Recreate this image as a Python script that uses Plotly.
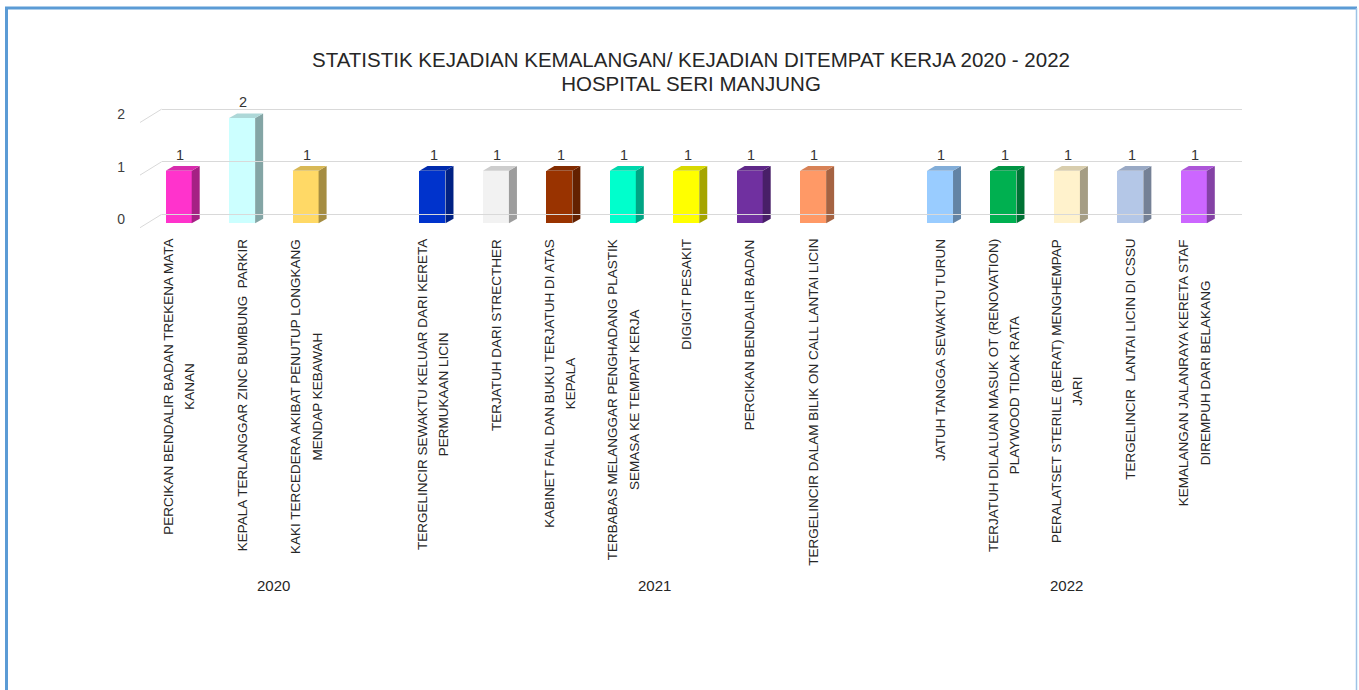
import plotly.graph_objects as go

# ---------------- data ----------------
years = ["2020", "2021", "2022"]

labels_2020 = [
    "PERCIKAN BENDALIR BADAN TREKENA MATA<br>KANAN",
    "KEPALA TERLANGGAR ZINC BUMBUNG  PARKIR",
    "KAKI TERCEDERA AKIBAT PENUTUP LONGKANG<br>MENDAP KEBAWAH",
]
values_2020 = [1, 2, 1]

labels_2021 = [
    "TERGELINCIR SEWAKTU KELUAR DARI KERETA<br>PERMUKAAN LICIN",
    "TERJATUH DARI STRECTHER",
    "KABINET FAIL DAN BUKU TERJATUH DI ATAS<br>KEPALA",
    "TERBABAS MELANGGAR PENGHADANG PLASTIK<br>SEMASA KE TEMPAT KERJA",
    "DIGIGIT PESAKIT",
    "PERCIKAN BENDALIR BADAN",
    "TERGELINCIR DALAM BILIK ON CALL LANTAI LICIN",
]
values_2021 = [1, 1, 1, 1, 1, 1, 1]

labels_2022 = [
    "JATUH TANGGA SEWAKTU TURUN",
    "TERJATUH DILALUAN MASUK OT (RENOVATION)<br>PLAYWOOD TIDAK RATA",
    "PERALATSET STERILE (BERAT) MENGHEMPAP<br>JARI",
    "TERGELINCIR  LANTAI LICIN DI CSSU",
    "KEMALANGAN JALANRAYA KERETA STAF<br>DIREMPUH DARI BELAKANG",
]
values_2022 = [1, 1, 1, 1, 1]

bar_colors = [
    "#FF33CC", "#CCFFFF", "#FFD966",
    "#0033CC", "#F2F2F2", "#993300", "#00FFCC", "#FFFF00", "#7030A0", "#FF9966",
    "#99CCFF", "#00B050", "#FFF2CC", "#B4C7E7", "#CC66FF",
]

y_ticks = [0, 1, 2]
title_text = ("STATISTIK KEJADIAN KEMALANGAN/ KEJADIAN DITEMPAT KERJA 2020 - 2022"
              "<br>HOSPITAL SERI MANJUNG")

# ---------------- layout helpers ----------------
W, H = 1359, 690
PX_X = 63.44   # px per category slot
PX_Y = 52.6    # px per value unit
FONT = "Liberation Sans, Arial, sans-serif"
TXT = "#404040"

groups = [(years[0], labels_2020, values_2020),
          (years[1], labels_2021, values_2021),
          (years[2], labels_2022, values_2022)]

positions, labels, values, year_centers = [], [], [], []
pos = 0
for gi, (yr, labs, vals) in enumerate(groups):
    start = pos
    for lab, v in zip(labs, vals):
        positions.append(pos)
        labels.append(lab)
        values.append(v)
        pos += 1
    if gi < len(groups) - 1:
        pos += 1  # blank slot after group
    year_centers.append((start + pos - 1) / 2)

last_slot = positions[-1]
x_range = [-38.7 / PX_X, last_slot + 26.2 / PX_X]
y_range = [-0.1, 2.44]


def shade(hexc, f):
    hexc = hexc.lstrip("#")
    r, g, b = (int(hexc[i:i + 2], 16) for i in (0, 2, 4))
    return "rgb(%d,%d,%d)" % (r * f, g * f, b * f)


def pfy(px):  # paper fraction from pixel y (top origin)
    return (H - px) / H


fig = go.Figure()

# back wall grid (separate axes shifted up/right for depth)
fig.add_trace(go.Scatter(x=[0], y=[0], mode="lines", xaxis="x2", yaxis="y2",
                         hoverinfo="skip", showlegend=False))

BAR_W = 0.41
DDX = 8 / PX_X
DDY = 4.6 / PX_Y

# front faces
fig.add_trace(go.Bar(x=positions, y=values, width=BAR_W,
                     marker=dict(color=bar_colors, line=dict(width=0)),
                     showlegend=False, hoverinfo="skip"))

# side and top faces
for p, v, c in zip(positions, values, bar_colors):
    xr = p + BAR_W / 2
    xl = p - BAR_W / 2
    fig.add_trace(go.Scatter(
        x=[xr, xr + DDX, xr + DDX, xr, xr],
        y=[0, DDY, v + DDY, v, 0],
        fill="toself", fillcolor=shade(c, 0.65), mode="lines",
        line=dict(width=0, color=shade(c, 0.65)),
        showlegend=False, hoverinfo="skip"))
    fig.add_trace(go.Scatter(
        x=[xl, xl + DDX, xr + DDX, xr, xl],
        y=[v, v + DDY, v + DDY, v, v],
        fill="toself", fillcolor=shade(c, 0.85), mode="lines",
        line=dict(width=0, color=shade(c, 0.85)),
        showlegend=False, hoverinfo="skip"))

# small depth diagonals at each tick on the left
dx_floor = 21.7 / PX_X
diag_x, diag_y = [], []
for t in y_ticks:
    diag_x += [x_range[0], x_range[0] + dx_floor, None]
    diag_y += [t - 4.4 / PX_Y, t + 9.0 / PX_Y, None]
fig.add_trace(go.Scatter(x=diag_x, y=diag_y, mode="lines",
                         line=dict(color="#D9D9D9", width=1),
                         showlegend=False, hoverinfo="skip"))

annotations = []
# value labels
for p, v in zip(positions, values):
    annotations.append(dict(x=p + 0.02, y=v, xref="x", yref="y", text=str(v),
                            showarrow=False, yshift=16, yanchor="middle",
                            font=dict(family=FONT, size=14.5, color="#333333")))
# category labels (rotated)
for p, lab in zip(positions, labels):
    annotations.append(dict(
        x=p, y=pfy(237), xref="x", yref="paper",
        text='<span style="font-size:13.5px">%s</span>' % lab,
        textangle=-90, xanchor="center", yanchor="top", align="center",
        showarrow=False, font=dict(family=FONT, size=16.5, color="#262626")))
# year labels
for yc, yr in zip(year_centers, years):
    annotations.append(dict(x=yc, y=pfy(585), xref="x", yref="paper", text=yr,
                            showarrow=False, yanchor="middle",
                            font=dict(family=FONT, size=15, color="#262626")))
# title
annotations.append(dict(x=690.5 / W, y=pfy(72), xref="paper", yref="paper",
                        text='<span style="font-size:20.5px">%s</span>' % title_text,
                        showarrow=False, align="center",
                        xanchor="center", yanchor="middle",
                        font=dict(family=FONT, size=18.5, color="#262626")))

shapes = [
    dict(type="line", xref="paper", yref="paper", x0=6.5 / W, x1=6.5 / W,
         y0=-0.05, y1=pfy(7.5), line=dict(color="#5B9BD5", width=3)),
    dict(type="line", xref="paper", yref="paper", x0=5 / W, x1=1357 / W,
         y0=pfy(8), y1=pfy(8), line=dict(color="#5B9BD5", width=3)),
    dict(type="line", xref="paper", yref="paper", x0=1356.5 / W, x1=1356.5 / W,
         y0=-0.05, y1=pfy(8), line=dict(color="#9DC3E6", width=1.5)),
]

fig.update_layout(
    width=W, height=H,
    margin=dict(l=0, r=0, t=0, b=0),
    paper_bgcolor="white", plot_bgcolor="rgba(0,0,0,0)",
    showlegend=False, bargap=0,
    annotations=annotations, shapes=shapes,
    xaxis=dict(domain=[140 / W, 1220 / W], range=x_range,
               showgrid=False, zeroline=False, showticklabels=False,
               showline=False, fixedrange=True),
    yaxis=dict(domain=[pfy(223.3 - y_range[0] * PX_Y), pfy(223.3 - y_range[1] * PX_Y)],
               range=y_range, tickvals=y_ticks, ticks="",
               showgrid=False, zeroline=False, showline=False,
               ticklabelshift=-4, ticklabelstandoff=14,
               tickfont=dict(family=FONT, size=14, color=TXT), fixedrange=True),
    xaxis2=dict(domain=[161.7 / W, 1241.7 / W], range=x_range, anchor="y2",
                visible=False, fixedrange=True),
    yaxis2=dict(domain=[pfy(214.3 - y_range[0] * PX_Y), pfy(214.3 - y_range[1] * PX_Y)],
                range=y_range, anchor="x2", tickvals=y_ticks,
                showgrid=True, gridcolor="#D9D9D9", gridwidth=1.2,
                zeroline=False, showticklabels=False, ticks="",
                showline=False, fixedrange=True),
)

fig.write_html("out.html", config={"displayModeBar": False},
               post_script="document.body.style.margin='0';document.body.style.overflow='hidden';")
